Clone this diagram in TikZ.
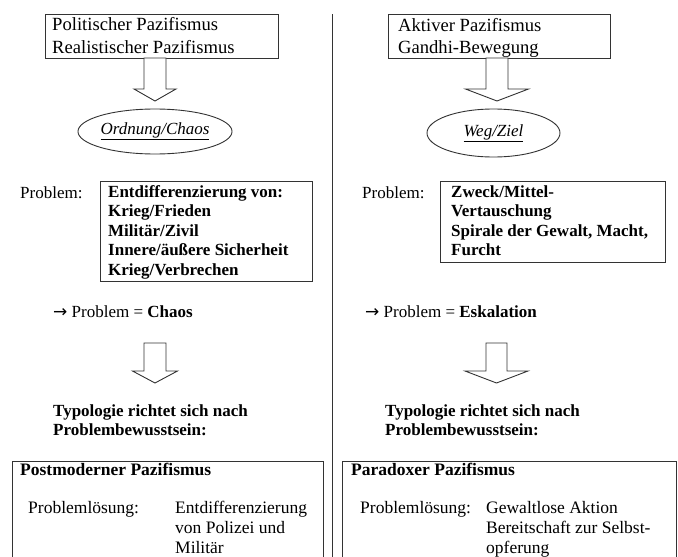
\documentclass[tikz,border=0pt]{standalone}
\usepackage{fontspec}
\setmainfont{Liberation Serif}
\newfontfamily\arrowfont{DejaVu Sans}
\usetikzlibrary{shapes.geometric}
\newcommand{\blkarrow}[7]{% cx, top, shaftbottom, tip, shaft half, head half, name
  \draw[blk] (#1-#5,#2) -- (#1-#5,#3) -- (#1-#6,#3) -- (#1,#4) coordinate (#7) -- (#1+#6,#3) -- (#1+#5,#3) -- (#1+#5,#2) -- cycle;}
\begin{document}
\begin{tikzpicture}[x=1pt,y=-1pt,
  frame/.style={draw=black!80, line width=0.9pt},
  txt/.style={anchor=base west, inner sep=0pt, font=\fontsize{17}{20}\selectfont},
  bt/.style={anchor=base west, inner sep=0pt, font=\fontsize{17}{20}\selectfont\bfseries},
  toptxt/.style={anchor=base west, inner sep=0pt, font=\fontsize{18.6}{22}\selectfont},
  btxt/.style={anchor=base west, inner sep=0pt, font=\fontsize{17.5}{21}\selectfont},
  bbt/.style={anchor=base west, inner sep=0pt, font=\fontsize{17.5}{21}\selectfont\bfseries},
  blk/.style={draw=black!80, line width=0.9pt, fill=white, line join=miter},
  oval/.style={ellipse, draw=black!80, line width=0.9pt, inner sep=0pt, font=\fontsize{17}{20}\selectfont}]
\useasboundingbox (0,0) rectangle (678,557);
\clip (0,0) rectangle (678,557);
\fill[white] (0,0) rectangle (678,557);

% divider
\coordinate (divtop) at (332,14);
\coordinate (divbot) at (332,560);
\draw[frame] (divtop) -- (divbot);

% ---------- left column ----------
\node[frame, minimum width=233pt, minimum height=44pt, inner sep=0pt] (topL) at (161.5,36) {};
\node[toptxt] (topL1) at (52,30) {Politischer Pazifismus};
\node[toptxt] (topL2) at (52,53) {Realistischer Pazifismus};

\blkarrow{155}{58}{89}{101}{11}{21}{arrL1}

\node[oval, minimum width=124pt, minimum height=45pt] (ellL) at (155,131.5) {\underline{\textit{Ordnung/Chaos}}};

\node[txt] (probL) at (20,198) {Problem:};
\node[frame, minimum width=212pt, minimum height=100pt, inner sep=0pt] (boxL) at (206,231) {};
\node[bt] (l1) at (108,197) {Entdifferenzierung von:};
\node[bt] (l2) at (108,216.5) {Krieg/Frieden};
\node[bt] (l3) at (108,236) {Militär/Zivil};
\node[bt] (l4) at (108,255.5) {Innere/äußere Sicherheit};
\node[bt] (l5) at (108,275) {Krieg/Verbrechen};

\node[txt] (resL) at (53,317) {{\arrowfont →} Problem = \textbf{Chaos}};

\blkarrow{155}{343}{371}{383}{11}{22.5}{arrL2}

\node[bt] (typL1) at (53,416) {Typologie richtet sich nach};
\node[bt] (typL2) at (53,435) {Problembewusstsein:};

\draw[frame] (12,600) -- (12,461) coordinate (botLtl) -- (323,461) coordinate (botLtr) -- (323,600);
\node[bbt] (postm) at (20,475) {Postmoderner Pazifismus};
\node[btxt] (plL) at (28,513) {Problemlösung:};
\node[btxt] (sL1) at (175,513) {Entdifferenzierung};
\node[btxt] (sL2) at (175,533.5) {von Polizei und};
\node[btxt] (sL3) at (175,553) {Militär};

% ---------- right column ----------
\node[frame, minimum width=222pt, minimum height=44pt, inner sep=0pt] (topR) at (499,36) {};
\node[toptxt] (topR1) at (398,31) {Aktiver Pazifismus};
\node[toptxt] (topR2) at (398,53) {Gandhi-Bewegung};

\blkarrow{497}{58}{89}{101}{11}{31.5}{arrR1}

\node[oval, minimum width=133pt, minimum height=48pt] (ellR) at (493.5,133) {\underline{\textit{Weg/Ziel}}};

\node[txt] (probR) at (362,198) {Problem:};
\node[frame, minimum width=225pt, minimum height=81pt, inner sep=0pt] (boxR) at (552.5,221.5) {};
\node[bt] (r1) at (451,197) {Zweck/Mittel-};
\node[bt] (r2) at (451,216.5) {Vertauschung};
\node[bt] (r3) at (451,236) {Spirale der Gewalt, Macht,};
\node[bt] (r4) at (451,255.5) {Furcht};

\node[txt] (resR) at (365,317) {{\arrowfont →} Problem = \textbf{Eskalation}};

\blkarrow{496.5}{343}{371}{383}{10.5}{31.5}{arrR2}

\node[bt] (typR1) at (385,416) {Typologie richtet sich nach};
\node[bt] (typR2) at (385,435) {Problembewusstsein:};

\draw[frame] (342,600) -- (342,461) coordinate (botRtl) -- (676,461) coordinate (botRtr) -- (676,600);
\node[bbt] (parad) at (351,475) {Paradoxer Pazifismus};
\node[btxt] (plR) at (360,513) {Problemlösung:};
\node[btxt] (sR1) at (486,513) {Gewaltlose Aktion};
\node[btxt] (sR2) at (486,533.5) {Bereitschaft zur Selbst-};
\node[btxt] (sR3) at (486,553) {opferung};
\end{tikzpicture}
\end{document}
